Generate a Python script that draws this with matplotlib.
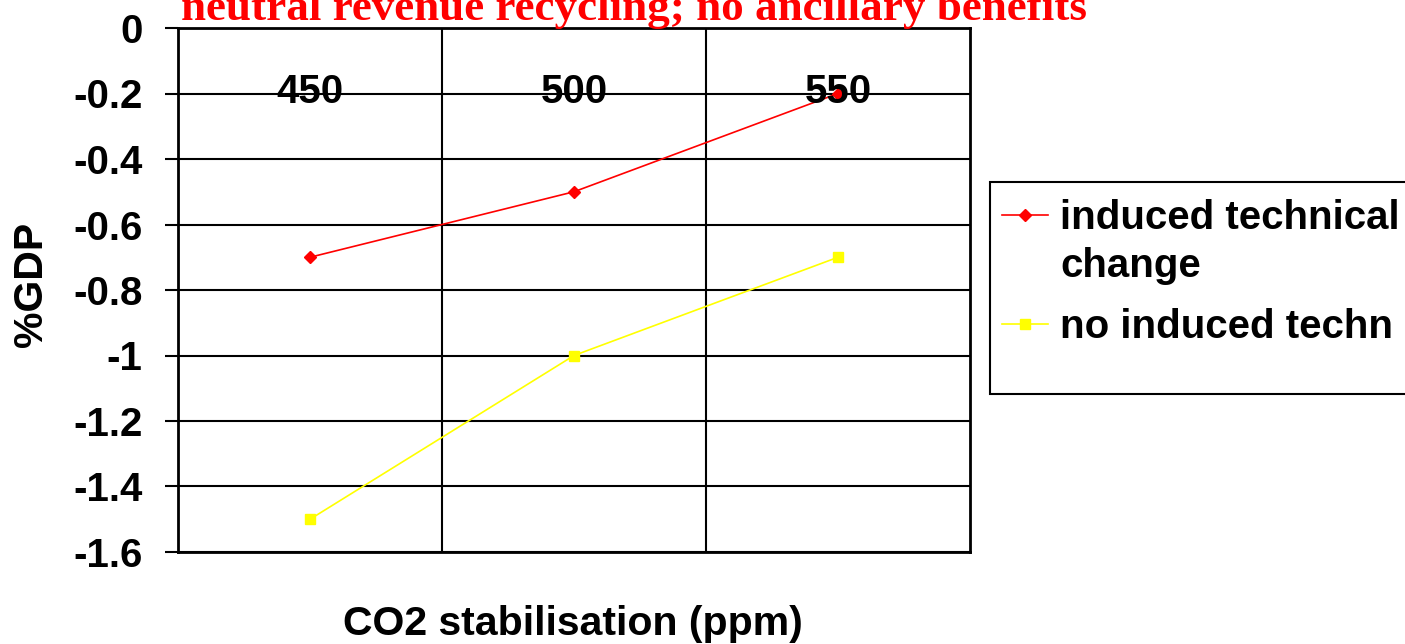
import numpy as np
import matplotlib.pyplot as plt
from matplotlib.patches import Rectangle
from matplotlib.transforms import blended_transform_factory
from matplotlib.legend_handler import HandlerLine2D

# Data
categories = ["450", "500", "550"]
induced = [-0.7, -0.5, -0.2]
no_induced = [-1.5, -1.0, -0.7]
y_ticks = [0, -0.2, -0.4, -0.6, -0.8, -1, -1.2, -1.4, -1.6]
y_tick_labels = ["0", "-0.2", "-0.4", "-0.6", "-0.8", "-1", "-1.2", "-1.4", "-1.6"]

plt.rcParams['font.family'] = ['Liberation Sans', 'DejaVu Sans']
FS = 29


# legend handle sitting on the first line of a two-line label
class HandlerFirstLine(HandlerLine2D):
    def __init__(self, shift, **kw):
        super().__init__(**kw)
        self.shift = shift

    def create_artists(self, legend, orig_handle, xdescent, ydescent, width, height,
                       fontsize, trans):
        arts = super().create_artists(legend, orig_handle, xdescent, ydescent, width,
                                      height, fontsize, trans)
        for a in arts:
            a.set_ydata(np.asarray(a.get_ydata(), dtype=float) + self.shift)
        return arts


fig = plt.figure(figsize=(14.05, 6.44), dpi=100)
ax = fig.add_axes([178 / 1405, 1 - 552 / 644, (970 - 178) / 1405, (552 - 28) / 644])

x = np.arange(len(categories))
l1, = ax.plot(x, induced, color="red", marker="D", markersize=6, linewidth=1.2,
              label="induced technical\nchange", zorder=3)
l2, = ax.plot(x, no_induced, color="#ffff00", marker="s", markersize=7, linewidth=1.2,
              label="no induced techn", zorder=3)

ax.set_xlim(-0.5, len(categories) - 0.5)
ax.set_ylim(-1.6, 0)
ax.set_yticks(y_ticks)
ax.set_yticklabels(y_tick_labels, fontsize=FS, fontweight="bold")
ax.tick_params(axis="y", length=9.5, width=1.5, pad=16)
ax.set_xticks([])

# grid
for yv in y_ticks:
    ax.axhline(yv, color="black", linewidth=1.5, zorder=1)
for xv in np.arange(0.5, len(categories) - 0.5, 1):
    ax.axvline(xv, color="black", linewidth=1.5, zorder=1)
for sp in ax.spines.values():
    sp.set_linewidth(2)

# category labels just under the top
trans = blended_transform_factory(ax.transData, ax.transAxes)
for xi, c in zip(x, categories):
    ax.text(xi, 0.877, c, transform=trans, ha="center", va="center",
            fontsize=FS, fontweight="bold")

ax.set_ylabel("%GDP", fontsize=FS + 0.5, fontweight="bold")
ax.yaxis.set_label_coords((50 - 178) / 792, (552 - 284) / 524)
fig.text(573 / 1405, 1 - 624 / 644, "CO2 stabilisation (ppm)", ha="center", va="center",
         fontsize=FS + 0.5, fontweight="bold")

# title, cut off at the top as in the source slide
fig.text(634 / 1405, 1 - 20 / 644, "neutral revenue recycling; no ancillary benefits",
         ha="center", va="baseline", fontsize=32.5, fontweight="bold", color="red",
         family=["Liberation Serif", "DejaVu Serif"])

# legend box
fig.patches.append(Rectangle((990 / 1405, 1 - 394 / 644), 420 / 1405, 212 / 644,
                             transform=fig.transFigure, facecolor="white",
                             edgecolor="black", linewidth=1.5))
leg = fig.legend(loc="upper left", bbox_to_anchor=(1002 / 1405, 1 - 199 / 644), frameon=False,
                 prop={"weight": "bold", "size": FS}, handlelength=1.15,
                 handletextpad=0.3, labelspacing=0.57, borderaxespad=0, borderpad=0,
                 handler_map={l1: HandlerFirstLine(20.2)})
for t in leg.get_texts():
    t.set_linespacing(1.35)

fig.savefig("out.png", dpi=100, facecolor="white")
